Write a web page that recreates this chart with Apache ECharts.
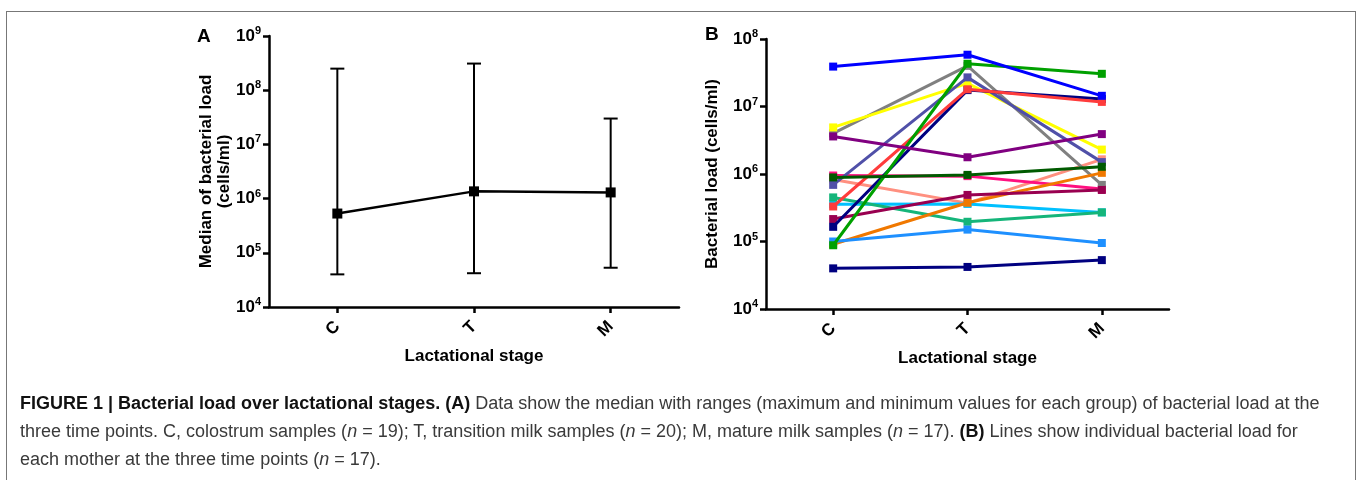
<!DOCTYPE html>
<html>
<head>
<meta charset="utf-8">
<script src="https://cdn.jsdelivr.net/npm/echarts@6/dist/echarts.min.js"></script>
<style>
  html, body { margin: 0; padding: 0; background: #fff; }
  #wrap { position: relative; width: 1358px; height: 480px; overflow: hidden; }
  #main { position: absolute; left: 0; top: 0; width: 1358px; height: 480px; }
  #frame { position: absolute; left: 6px; top: 11px; width: 1348px; height: 480px; border: 1.5px solid #777; border-bottom: none; }
  #caption {
    position: absolute; left: 20px; top: 389px; width: 1330px;
    font-family: "Liberation Sans", Arial, sans-serif;
    font-size: 18px; line-height: 28px; color: #3a3a3a; white-space: nowrap;
  }
  #caption b { color: #111; }
</style>
</head>
<body>
<div id="wrap">
  <div id="frame"></div>
  <div id="main"></div>
  <div id="caption">
    <b>FIGURE 1 | Bacterial load over lactational stages. (A)</b> Data show the median with ranges (maximum and minimum values for each group) of bacterial load at the<br>
    three time points. C, colostrum samples (<i>n</i> = 19); T, transition milk samples (<i>n</i> = 20); M, mature milk samples (<i>n</i> = 17). <b>(B)</b> Lines show individual bacterial load for<br>
    each mother at the three time points (<i>n</i> = 17).
  </div>
</div>
<script>
// stages on the x axis
const stages = ["C", "T", "M"];

// panel A: median, minimum and maximum (cells/ml)
const medianA = [5.3e5, 1.36e6, 1.3e6];
const minA = [4.0e4, 4.2e4, 5.3e4];
const maxA = [2.5e8, 3.1e8, 3.0e7];

// panel B: one value per mother at each stage
const mColors = ["#FF9080", "#FF1080", "#808080", "#FFFF00", "#00C0FF", "#15B57A", "#F07800", "#1E90FF", "#990050",
  "#5050A8", "#000080", "#FF3C3C", "#00A000", "#005A00", "#800080", "#0000FF", "#000080"];
const loadC = [8.3e5, 9.5e5, 4.0e6, 4.9e6, 3.55e5, 4.5e5, 9.1e4, 1.0e5, 2.15e5, 6.9e5, 1.65e5, 3.3e5, 8.8e4, 8.9e5, 3.6e6, 3.9e7, 4.0e4];
const loadT = [3.7e5, 9.3e5, 4.0e7, 2.2e7, 3.6e5, 1.96e5, 3.75e5, 1.5e5, 4.9e5, 2.7e7, 1.75e7, 1.8e7, 4.3e7, 9.7e5, 1.77e6, 5.85e7, 4.2e4];
const loadM = [1.65e6, 6.0e5, 6.9e5, 2.3e6, 2.7e5, 2.7e5, 1.04e6, 9.5e4, 5.8e5, 1.5e6, 1.29e7, 1.17e7, 3.05e7, 1.28e6, 3.9e6, 1.44e7, 5.3e4];

const FONT = '"Liberation Sans", Arial, sans-serif';

const chart = echarts.init(document.getElementById("main"));

function expLabel(v) {
  return "{b|10}{s|" + Math.round(Math.log10(v)) + "}";
}
const labelRich = {
  b: { fontSize: 17, fontWeight: "bold", fontFamily: FONT, color: "#000" },
  s: { fontSize: 11, fontWeight: "bold", fontFamily: FONT, color: "#000", verticalAlign: "top", padding: [0, 0, 10, 0] }
};
const axisLine = { show: true, lineStyle: { color: "#000", width: 2.5 } };
const axisTick = { show: true, inside: false, length: 6, lineStyle: { color: "#000", width: 2.5 } };
const nameStyle = { fontSize: 17, fontWeight: "bold", fontFamily: FONT, color: "#000" };

function xAxis(gi) {
  return {
    type: "category", gridIndex: gi, data: stages, boundaryGap: true,
    axisLine: axisLine, axisTick: Object.assign({ alignWithLabel: true }, axisTick),
    axisLabel: { rotate: 45, margin: 17, fontSize: 17, fontWeight: "bold", fontFamily: FONT, color: "#000" },
    name: "Lactational stage", nameLocation: "middle", nameGap: 41, nameMoveOverlap: false, nameTextStyle: nameStyle
  };
}
function yAxis(gi, min, max, name, gap) {
  return {
    type: "log", logBase: 10, gridIndex: gi, min: min, max: max,
    axisLine: axisLine, axisTick: axisTick, minorTick: { show: false }, splitLine: { show: false },
    axisLabel: { formatter: expLabel, rich: labelRich, margin: 8 },
    name: name, nameLocation: "middle", nameRotate: 90, nameGap: gap, nameMoveOverlap: false,
    nameTextStyle: Object.assign({ lineHeight: 18 }, nameStyle)
  };
}

const seriesB = mColors.map(function (c, i) {
  return {
    type: "line", xAxisIndex: 1, yAxisIndex: 1,
    data: [loadC[i], loadT[i], loadM[i]],
    symbol: "rect", symbolSize: 8, showSymbol: true,
    lineStyle: { color: c, width: 3 }, itemStyle: { color: c },
    animation: false, z: 2 + i
  };
});

chart.setOption({
  animation: false,
  grid: [
    { left: 269, top: 36, width: 410, height: 271 },
    { left: 766, top: 39, width: 403, height: 270 }
  ],
  xAxis: [xAxis(0), xAxis(1)],
  yAxis: [
    yAxis(0, 1e4, 1e9, "Median of bacterial load\n(cells/ml)", 36),
    yAxis(1, 1e4, 1e8, "Bacterial load (cells/ml)", 45)
  ],
  graphic: [
    { type: "text", left: 197, top: 27, style: { text: "A", font: "bold 19px " + FONT, fill: "#000" } },
    { type: "text", left: 705, top: 25, style: { text: "B", font: "bold 19px " + FONT, fill: "#000" } }
  ],
  series: [
    {
      type: "custom", xAxisIndex: 0, yAxisIndex: 0,
      data: stages.map(function (s, i) { return [i, minA[i], maxA[i]]; }),
      renderItem: function (params, api) {
        const lo = api.coord([api.value(0), api.value(1)]);
        const hi = api.coord([api.value(0), api.value(2)]);
        const st = { stroke: "#000", lineWidth: 2 };
        return {
          type: "group", children: [
            { type: "line", shape: { x1: lo[0], y1: lo[1], x2: hi[0], y2: hi[1] }, style: st },
            { type: "line", shape: { x1: lo[0] - 7, y1: lo[1], x2: lo[0] + 7, y2: lo[1] }, style: st },
            { type: "line", shape: { x1: hi[0] - 7, y1: hi[1], x2: hi[0] + 7, y2: hi[1] }, style: st }
          ]
        };
      },
      z: 1
    },
    {
      type: "line", xAxisIndex: 0, yAxisIndex: 0, data: medianA,
      symbol: "rect", symbolSize: 10, lineStyle: { color: "#000", width: 2.5 }, itemStyle: { color: "#000" }, z: 3
    }
  ].concat(seriesB)
});
</script>
</body>
</html>
